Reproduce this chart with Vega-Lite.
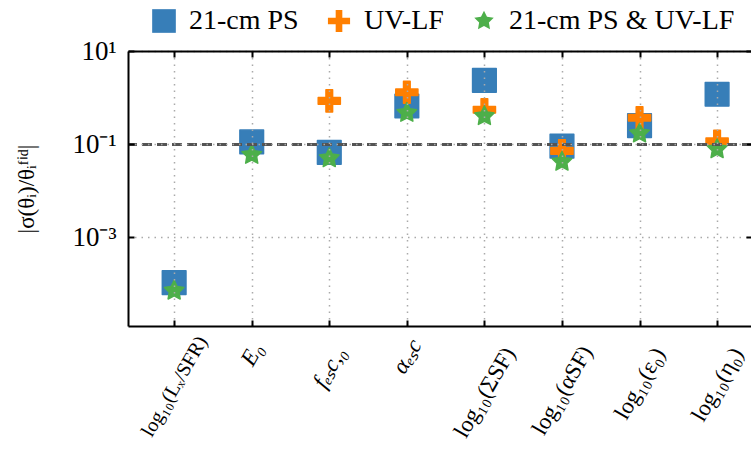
{
  "$schema": "https://vega.github.io/schema/vega-lite/v6.json",
  "autosize": "none",
  "width": 624,
  "height": 275,
  "padding": {"left": 128, "top": 51, "right": 0, "bottom": 129},
  "background": "white",
  "config": {"font": "Liberation Serif", "view": {"stroke": null}},
  "data": {
    "values": [
      {"idx": 0, "param": "log10(Lx/SFR)", "probe": "21-cm PS", "value": 0.000107},
      {"idx": 1, "param": "E0", "probe": "21-cm PS", "value": 0.112},
      {"idx": 2, "param": "f_esc,0", "probe": "21-cm PS", "value": 0.067},
      {"idx": 3, "param": "alpha_esc", "probe": "21-cm PS", "value": 0.66},
      {"idx": 4, "param": "log10(Sigma_SF)", "probe": "21-cm PS", "value": 2.35},
      {"idx": 5, "param": "log10(alpha_SF)", "probe": "21-cm PS", "value": 0.091},
      {"idx": 6, "param": "log10(eps0)", "probe": "21-cm PS", "value": 0.25},
      {"idx": 7, "param": "log10(eta0)", "probe": "21-cm PS", "value": 1.18},
      {"idx": 2, "param": "f_esc,0", "probe": "UV-LF", "value": 0.85},
      {"idx": 3, "param": "alpha_esc", "probe": "UV-LF", "value": 1.3},
      {"idx": 4, "param": "log10(Sigma_SF)", "probe": "UV-LF", "value": 0.55},
      {"idx": 5, "param": "log10(alpha_SF)", "probe": "UV-LF", "value": 0.072},
      {"idx": 6, "param": "log10(eps0)", "probe": "UV-LF", "value": 0.37},
      {"idx": 7, "param": "log10(eta0)", "probe": "UV-LF", "value": 0.115},
      {"idx": 0, "param": "log10(Lx/SFR)", "probe": "21-cm PS & UV-LF", "value": 0.000072},
      {"idx": 1, "param": "E0", "probe": "21-cm PS & UV-LF", "value": 0.059},
      {"idx": 2, "param": "f_esc,0", "probe": "21-cm PS & UV-LF", "value": 0.05},
      {"idx": 3, "param": "alpha_esc", "probe": "21-cm PS & UV-LF", "value": 0.47},
      {"idx": 4, "param": "log10(Sigma_SF)", "probe": "21-cm PS & UV-LF", "value": 0.4},
      {"idx": 5, "param": "log10(alpha_SF)", "probe": "21-cm PS & UV-LF", "value": 0.042},
      {"idx": 6, "param": "log10(eps0)", "probe": "21-cm PS & UV-LF", "value": 0.17},
      {"idx": 7, "param": "log10(eta0)", "probe": "21-cm PS & UV-LF", "value": 0.078}
    ]
  },
  "layer": [
    {
      "mark": {"type": "point", "filled": true, "opacity": 1, "strokeWidth": 1.5, "strokeJoin": "round"},
      "encoding": {
        "x": {
          "field": "idx", "type": "quantitative",
          "scale": {"domain": [-0.595, 7.45], "nice": false, "zero": false},
          "axis": {
            "orient": "bottom", "title": null, "values": [0, 1, 2, 3, 4, 5, 6, 7],
            "labelExpr": "['log₁₀(Lₓ/SFR)','E₀','fₑₛc,₀','αₑₛc','log₁₀(ΣSF)','log₁₀(αSF)','log₁₀(ε₀)','log₁₀(η₀)'][datum.value]",
            "labelAngle": -60, "labelAlign": "center", "labelBaseline": "middle",
            "labelFontSize": {"condition": {"test": "datum.value == 0", "value": 20}, "value": 23},
            "labelColor": "black", "labelFlush": false, "labelOverlap": false, "labelBound": false, "labelLimit": 400,
            "labelFontStyle": {"condition": {"test": "datum.value >= 1 && datum.value <= 3", "value": "italic"}, "value": "normal"},
            "labelPadding": {"condition": [
              {"test": "datum.value == 0", "value": 66},
              {"test": "datum.value == 1", "value": 34},
              {"test": "datum.value == 2", "value": 47},
              {"test": "datum.value == 3", "value": 36},
              {"test": "datum.value == 4", "value": 72},
              {"test": "datum.value == 5", "value": 70},
              {"test": "datum.value == 6", "value": 63}
            ], "value": 64},
            "tickSize": -6, "tickWidth": 2, "tickColor": "black",
            "domainColor": "black", "domainWidth": 2,
            "grid": true, "gridDash": [1.5, 5], "gridColor": "#aaaaaa", "gridWidth": 1.5,
            "zindex": 1
          }
        },
        "y": {
          "field": "value", "type": "quantitative",
          "scale": {"type": "log", "domain": [0.000012589, 10], "nice": false},
          "axis": {
            "orient": "left", "values": [10, 0.1, 0.001],
            "labelExpr": "datum.value == 10 ? '10¹' : datum.value == 0.1 ? '10⁻¹' : '10⁻³'",
            "labelFontSize": 27, "labelColor": "black", "labelPadding": 18,
            "title": "|σ(θᵢ)/θᵢᶠⁱᵈ|", "titleFontSize": 23, "titleFontWeight": "normal", "titleColor": "black", "titlePadding": 33,
            "tickSize": -6, "tickWidth": 2, "tickColor": "black",
            "domainColor": "black", "domainWidth": 2,
            "grid": true, "gridDash": [1.5, 5], "gridColor": "#aaaaaa", "gridWidth": 1.5,
            "zindex": 1
          }
        },
        "color": {
          "field": "probe", "type": "nominal",
          "scale": {"domain": ["21-cm PS", "UV-LF", "21-cm PS & UV-LF"], "range": ["#377eb8", "#ff7f00", "#4daf4a"]},
          "legend": {
            "orient": "none", "legendX": 22, "legendY": -44, "direction": "horizontal", "title": null,
            "labelFontSize": 28, "labelColor": "black", "labelOffset": 11, "columnPadding": 26, "labelLimit": 400,
            "symbolSize": 500, "symbolStrokeWidth": 0, "symbolOpacity": 1
          }
        },
        "stroke": {
          "field": "probe", "type": "nominal",
          "scale": {"domain": ["21-cm PS", "UV-LF", "21-cm PS & UV-LF"], "range": ["#377eb8", "#ff7f00", "#4daf4a"]},
          "legend": null
        },
        "shape": {
          "field": "probe", "type": "nominal",
          "scale": {"domain": ["21-cm PS", "UV-LF", "21-cm PS & UV-LF"], "range": ["square", "M-1,-0.3H1V0.3H-1Z M-0.3,-1H0.3V1H-0.3Z", "M0,-1L0.294,-0.405L0.951,-0.309L0.476,0.155L0.588,0.809L0,0.5L-0.588,0.809L-0.476,0.155L-0.951,-0.309L-0.294,-0.405Z"]}
        },
        "size": {
          "field": "probe", "type": "nominal",
          "scale": {"domain": ["21-cm PS", "UV-LF", "21-cm PS & UV-LF"], "range": [560, 420, 760]},
          "legend": null
        }
      }
    },
    {
      "mark": {"type": "rule", "strokeDash": [10, 5], "color": "#555555", "strokeWidth": 2, "opacity": 0.85},
      "encoding": {"y": {"datum": 0.1, "axis": null}}
    },
    {
      "mark": {"type": "point", "opacity": 0},
      "encoding": {
        "x": {
          "field": "idx", "type": "quantitative",
          "axis": {"orient": "top", "title": null, "values": [0, 1, 2, 3, 4, 5, 6, 7], "labels": false, "grid": false,
                   "tickSize": -6, "tickWidth": 2, "tickColor": "black", "domainColor": "black", "domainWidth": 2, "zindex": 1}
        },
        "y": {
          "field": "value", "type": "quantitative",
          "axis": {"orient": "right", "title": null, "values": [10, 0.1, 0.001], "labels": false, "grid": false,
                   "tickSize": -6, "tickWidth": 2, "tickColor": "black", "domainColor": "black", "domainWidth": 2, "zindex": 1}
        }
      }
    }
  ],
  "resolve": {"axis": {"x": "independent", "y": "independent"}}
}
